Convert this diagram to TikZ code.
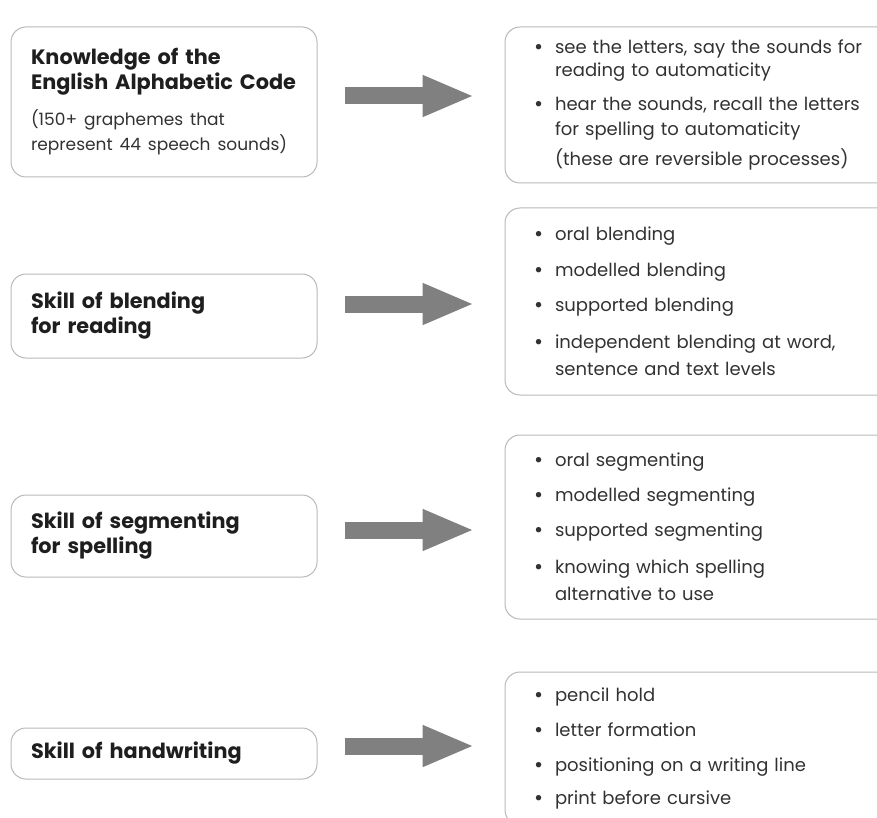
\documentclass[tikz,border=0pt]{standalone}
\usepackage{fontspec}
\setmainfont{Poppins}
\usetikzlibrary{arrows.meta}
\definecolor{boxline}{RGB}{185,185,185}
\definecolor{arrowgrey}{RGB}{128,128,128}
\definecolor{darktext}{RGB}{30,30,30}
\definecolor{softtext}{RGB}{50,50,50}
% one bullet line, and the line that carries on under it
\newcommand{\bul}[1]{\makebox[18pt][l]{\hspace*{-3pt}\raisebox{-0.5pt}{\fontsize{22}{22}\selectfont\textbullet}}#1}
\newcommand{\cont}[1]{\hspace*{18pt}#1}
\newcommand{\plain}[1]{{\mdseries\color{softtext}\fontsize{17}{25}\selectfont#1}}

\begin{document}
\begin{tikzpicture}[x=1pt,y=-1pt,
    skill/.style={draw=boxline, line width=1pt, rounded corners=15pt,
      text width=266pt, inner xsep=20pt, align=left, text=darktext,
      font=\bfseries\fontsize{20.8}{25}\selectfont},
    detail/.style={draw=boxline, line width=1pt, rounded corners=15pt,
      text width=331pt, inner xsep=32pt, align=left, text=softtext,
      font=\fontsize{18}{26}\selectfont},
    bigarrow/.style={draw=arrowgrey, line width=17pt,
      -{Triangle[length=52pt,width=38pt]}, arrowgrey,
      shorten <=27pt, shorten >=30pt}]

      \clip (0,0) rectangle (877,818);

      % left column: what is taught
      \node[skill, minimum height=150pt] (know) at (164,102)
        {Knowledge of the\\English Alphabetic Code\\[11pt]
         \plain{(150+ graphemes that\\represent 44 speech sounds)}};
      \node[skill, minimum height=84pt] (blend) at (164,316)
        {Skill of blending\\for reading};
      \node[skill, minimum height=82pt] (segm) at (164,536)
        {Skill of segmenting\\for spelling};
      \node[skill, minimum height=51pt] (hand) at (164,753.5)
        {Skill of handwriting};

      % right column: how it is practised
      \node[detail, minimum height=156pt] (knowr) at (702.5,105)
        {\bul{see the letters, say the sounds for}\\[-3pt]
         \cont{reading to automaticity}\\[8pt]
         \bul{hear the sounds, recall the letters}\\[-1pt]
         \cont{for spelling to automaticity}\\[4pt]
         \cont{(these are reversible processes)}};
      \node[detail, minimum height=187pt] (blendr) at (702.5,301.5)
        {\bul{oral blending}\\[10pt]
         \bul{modelled blending}\\[9pt]
         \bul{supported blending}\\[11pt]
         \bul{independent blending at word,}\\[1pt]
         \cont{sentence and text levels}};
      \node[detail, minimum height=184pt] (segmr) at (702.5,527)
        {\bul{oral segmenting}\\[9pt]
         \bul{modelled segmenting}\\[9pt]
         \bul{supported segmenting}\\[11pt]
         \bul{knowing which spelling}\\[1pt]
         \cont{alternative to use}};
      \node[detail, minimum height=153pt] (handr) at (702.5,748.5)
        {\bul{pencil hold}\\[9pt]
         \bul{letter formation}\\[9pt]
         \bul{positioning on a writing line}\\[7pt]
         \bul{print before cursive}};

      % the fat grey arrows
      \draw[bigarrow] ([yshift=6pt]know.east) -- ([yshift=6pt]know.east -| knowr.west);
      \draw[bigarrow] ([yshift=12pt]blend.east) -- ([yshift=12pt]blend.east -| blendr.west);
      \draw[bigarrow] ([yshift=6pt]segm.east) -- ([yshift=6pt]segm.east -| segmr.west);
      \draw[bigarrow] ([yshift=7.5pt]hand.east) -- ([yshift=7.5pt]hand.east -| handr.west);

    \end{tikzpicture}
\end{document}
